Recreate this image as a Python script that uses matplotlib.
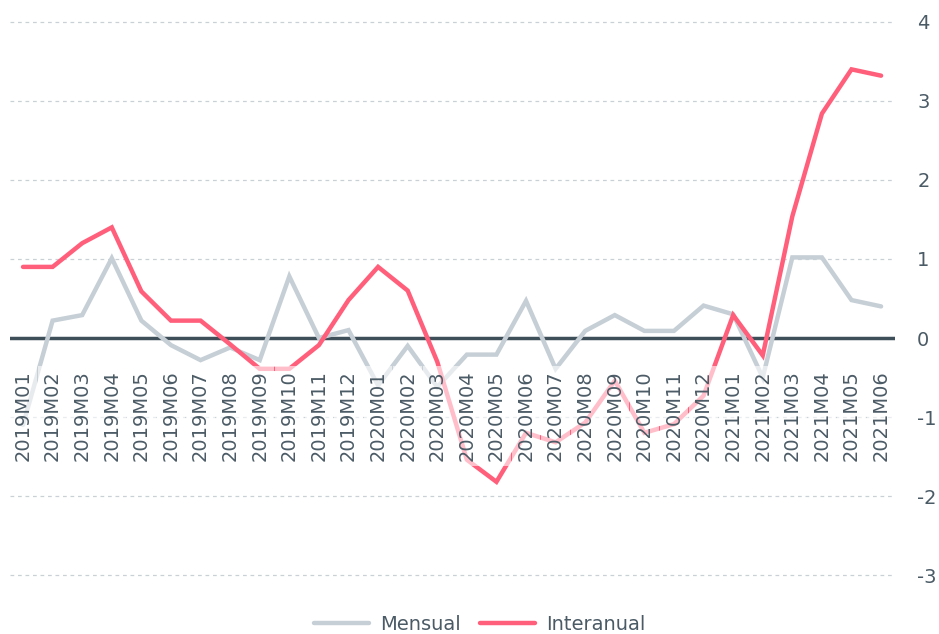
import numpy as np
import matplotlib
matplotlib.use("Agg")
import matplotlib.pyplot as plt

# ── Data ──────────────────────────────────────────────────────────────────────
PERIODS = ["2019M01", "2019M02", "2019M03", "2019M04", "2019M05", "2019M06",
           "2019M07", "2019M08", "2019M09", "2019M10", "2019M11", "2019M12",
           "2020M01", "2020M02", "2020M03", "2020M04", "2020M05", "2020M06",
           "2020M07", "2020M08", "2020M09", "2020M10", "2020M11", "2020M12",
           "2021M01", "2021M02", "2021M03", "2021M04", "2021M05", "2021M06"]

MENSUAL = [-1.1, 0.22, 0.29, 1.01, 0.22, -0.09, -0.28, -0.12, -0.28, 0.78,
           0.0, 0.10, -0.6, -0.1, -0.62, -0.21, -0.21, 0.47, -0.39, 0.09,
           0.29, 0.09, 0.09, 0.41, 0.30, -0.5, 1.02, 1.02, 0.48, 0.40]

INTERANUAL = [0.9, 0.9, 1.2, 1.4, 0.59, 0.22, 0.22, -0.08, -0.39, -0.39,
              -0.09, 0.48, 0.9, 0.6, -0.3, -1.54, -1.82, -1.2, -1.32, -1.07,
              -0.54, -1.2, -1.09, -0.73, 0.29, -0.22, 1.54, 2.84, 3.40, 3.32]

YTICKS = [-3, -2, -1, 0, 1, 2, 3, 4]

GREY  = "#c6cfd6"
RED   = "#ff5f7a"
SLATE = "#3f4f59"
TEXT  = "#4b5b66"

plt.rcParams.update({
    "font.family": "DejaVu Sans",
    "font.size":   14,
})

fig = plt.figure(figsize=(9.39, 6.34), dpi=100)
# y=4 sits at ~22px, y=-3 at ~575px; pad by 0.05 units so edge grid lines show
ax = fig.add_axes([10 / 939, 1 - 579 / 634, 885 / 939, 561 / 634])

x = np.arange(len(PERIODS))

# grid: dashed, zero line solid
for yv in YTICKS:
    if yv == 0:
        continue
    ax.axhline(yv, color="#c9d0d6", lw=0.9, ls=(0, (3, 3)), zorder=1)
ax.axhline(0, color=SLATE, lw=2.5, zorder=2)

ax.plot(x, MENSUAL, color=GREY, lw=3.2, solid_capstyle="round",
        solid_joinstyle="miter", zorder=3, label="Mensual")
ax.plot(x, INTERANUAL, color=RED, lw=3.2, solid_capstyle="round",
        solid_joinstyle="miter", zorder=4, label="Interanual")

# period labels sit inside the plot, just under the zero line
for i, p in enumerate(PERIODS):
    ax.text(i, -0.41, p, rotation=90, ha="center", va="top", color=TEXT,
            fontsize=14, zorder=5,
            bbox=dict(boxstyle="square,pad=0.25", fc="white", ec="none",
                      alpha=0.6))

ax.set_xlim(-0.44, 29.47)
ax.set_ylim(-3.05, 4.05)
ax.set_xticks([])
ax.yaxis.tick_right()
ax.set_yticks(YTICKS)
ax.set_yticklabels([str(v) for v in YTICKS])
ax.tick_params(axis="y", length=0, pad=16, labelsize=14, labelcolor=TEXT)
for lab in ax.get_yticklabels():
    lab.set_horizontalalignment("left")
for s in ax.spines.values():
    s.set_visible(False)

fig.legend(loc="center", bbox_to_anchor=(480 / 939, 1 - 624 / 634), ncol=2,
           frameon=False, fontsize=14, handlelength=2.8, handletextpad=0.6,
           columnspacing=1.0, labelcolor=TEXT)

fig.savefig("out.png", dpi=100)
